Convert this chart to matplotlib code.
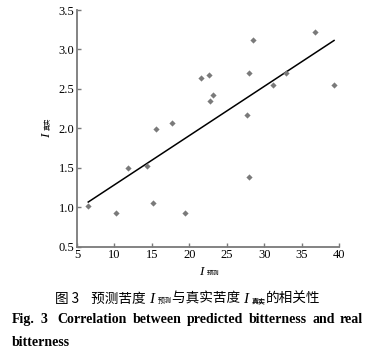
import numpy as np
import matplotlib
matplotlib.use("Agg")
import matplotlib.pyplot as plt

# predicted vs real bitterness
i_pred = [6.5, 10.2, 11.8, 14.4, 15.2, 15.6, 17.7, 19.4, 21.5, 22.6, 22.8, 23.2,
          27.7, 27.9, 28.0, 28.5, 31.1, 32.9, 36.7, 39.3]
i_real = [1.01, 0.93, 1.50, 1.52, 1.06, 1.99, 2.07, 0.93, 2.64, 2.68, 2.35, 2.42,
          2.17, 2.70, 1.38, 3.12, 2.55, 2.70, 3.22, 2.55]
x_ticks = [5, 10, 15, 20, 25, 30, 35, 40]
y_ticks = [0.5, 1.0, 1.5, 2.0, 2.5, 3.0, 3.5]

SERIF = "Liberation Serif"
CJK = "Noto Sans CJK SC"
GREY = "#7a7a7a"

fig = plt.figure(figsize=(3.76, 3.59), dpi=100)
ax = fig.add_axes([0.2048, 0.3128, 0.6976, 0.6593])

ax.scatter(i_pred, i_real, marker="D", s=10, color=GREY, linewidths=0, zorder=3)

# linear fit through the points
k, b = np.polyfit(i_pred, i_real, 1)
xs = np.array([min(i_pred), max(i_pred)])
ax.plot(xs, k * xs + b, color="black", lw=1.1, zorder=2)

ax.set_xlim(5, 40)
ax.set_ylim(0.5, 3.5)
ax.set_xticks(x_ticks)
ax.set_yticks(y_ticks)
ax.set_xticklabels([str(t) for t in x_ticks], family=SERIF, fontsize=9)
ax.set_yticklabels([f"{t:.1f}" for t in y_ticks], family=SERIF, fontsize=9)
ax.tick_params(direction="in", length=3, width=1, color=GREY, pad=2)
for s in ["top", "right"]:
    ax.spines[s].set_visible(False)
for s in ["left", "bottom"]:
    ax.spines[s].set_color(GREY)
    ax.spines[s].set_linewidth(1.3)

fig.canvas.draw()
renderer = fig.canvas.get_renderer()


def run_text(pieces, x, y, rotation=0, ha="left"):
    # draw a row of differently styled pieces, in figure pixels
    arts = []
    total = 0
    for s, kw in pieces:
        t = fig.text(0, 0, s, rotation=rotation, va="baseline", ha="left",
                     rotation_mode="anchor", transform=None, **kw)
        ext = t.get_window_extent(renderer)
        w = ext.height if rotation else ext.width
        arts.append((t, w))
        total += w
    start = y if rotation else x
    pos = start - total / 2 if ha == "center" else start
    for t, w in arts:
        if rotation:
            t.set_position((x, pos))
        else:
            t.set_position((pos, y))
        pos += w
    return arts


H = 359
it = dict(family=SERIF, style="italic", fontsize=9.5)
sub = dict(family=CJK, fontsize=4.5)

# axis labels
run_text([("I ", it), ("预测", sub)], 209, H - 275, ha="center")
run_text([("I ", it), ("真实", sub)], 50, H - 128, rotation=90, ha="center")

# caption
cap = dict(family=CJK, fontsize=9.8)
run_text([("图 3    预测苦度 ", cap), ("I ", dict(family=SERIF, style="italic", fontsize=11)),
          ("预测", dict(family=CJK, fontsize=5)), ("与真实苦度 ", cap),
          ("I ", dict(family=SERIF, style="italic", fontsize=11)),
          ("真实", dict(family=CJK, fontsize=5, weight="bold")), ("的相关性", cap)],
         188, H - 303, ha="center")

words = ["Fig.", "3", "", "Correlation", "between", "predicted", "bitterness", "and", "real"]
eng = dict(family=SERIF, weight="bold", fontsize=10)
arts = [fig.text(0, 0, w, transform=None, va="baseline", **eng) for w in words]
widths = [a.get_window_extent(renderer).width for a in arts]
x0, x1 = 12, 363
gap = (x1 - x0 - sum(widths)) / (len(words) - 1)
pos = x0
for a, w in zip(arts, widths):
    a.set_position((pos, H - 323))
    pos += w + gap
fig.text(x0, H - 346, "bitterness", transform=None, va="baseline", **eng)

fig.savefig("out.png", dpi=100)
